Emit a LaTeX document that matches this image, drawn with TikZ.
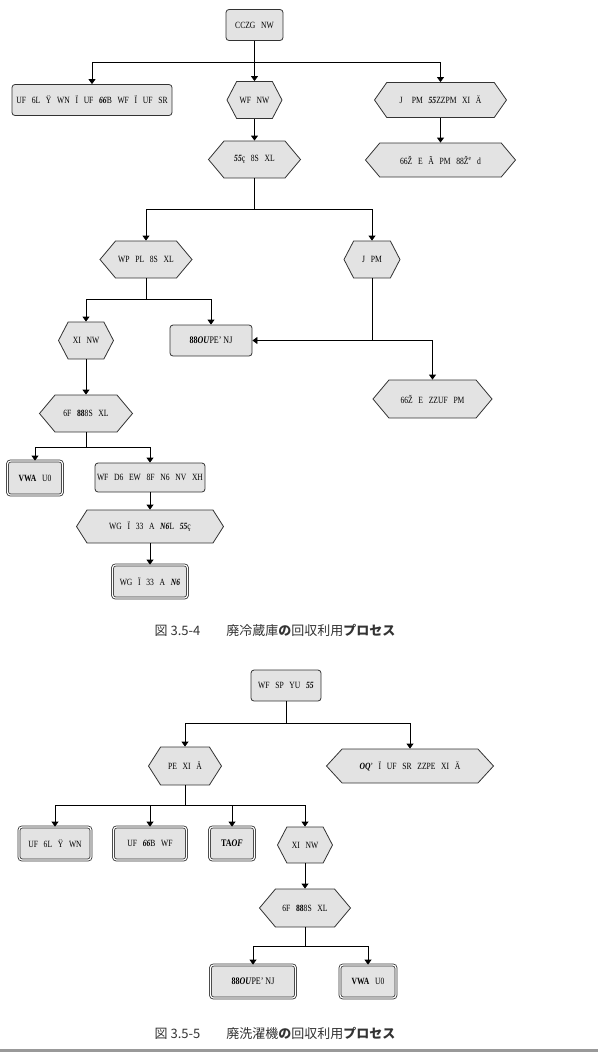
\documentclass[tikz,border=0pt]{standalone}
\usepackage{fontspec}
\setmainfont{Liberation Serif}[FakeStretch=0.8]
\newfontfamily\cjk{Noto Sans CJK JP}
\usetikzlibrary{arrows.meta,positioning,shapes.symbols}
\newcommand{\bi}[1]{\textbf{\textit{#1}}}
\newcommand{\nodefont}{\fontsize{9.5}{11}\selectfont\spaceskip=0.6em plus 0.1em\relax}

\begin{document}
\begin{tikzpicture}[
  x=1pt, y=-1pt,
  font=\nodefont,
  box/.style={draw=black!80, fill=black!11, rounded corners=3pt, align=center, inner sep=2pt, line width=0.8pt},
  dbox/.style={box, double=white, double distance=1.2pt},
  hexbox/.style={draw=black!80, fill=black!11, signal, signal to=east and west, signal pointer angle=110, inner sep=1pt, line width=0.8pt},
  arr/.style={-{Triangle[length=5pt,width=7pt]}, line width=0.8pt},
  figcap/.style={font=\cjk\fontsize{13}{15}\selectfont, text=black!80}
]
  \useasboundingbox (0,0) rectangle (598,1053);

  % --- first process
  \node[box, minimum width=57pt, minimum height=31pt] (fr) at (254.5,25) {CCZG NW};

  \node[box, minimum width=160pt, minimum height=31pt] (frA) at (92,100) {UF 6L Ÿ WN Ï UF \bi{66}B WF Ï UF SR};
  \node[hexbox, minimum width=55pt, minimum height=37pt, signal pointer angle=125] (frB) at (254.5,100) {WF NW};
  \node[hexbox, minimum width=132pt, minimum height=35pt] (frC) at (440.5,100) {J\quad PM \bi{55}ZZPM XI Ä};

  \node[hexbox, minimum width=92pt, minimum height=37pt, signal pointer angle=100] (frD) at (254.5,159.5) {\bi{55}ç 8S XL};
  \node[hexbox, minimum width=150pt, minimum height=34pt, signal pointer angle=100] (frE) at (440.5,160) {66Ž E Ã PM 88Ž\textsuperscript{e} d};

  \node[hexbox, minimum width=92pt, minimum height=37pt, signal pointer angle=100] (frF) at (146,259.5) {WP PL 8S XL};
  \node[hexbox, minimum width=56pt, minimum height=37pt, signal pointer angle=125] (frG) at (372,259.5) {J PM};

  \node[hexbox, minimum width=55pt, minimum height=37pt, signal pointer angle=125] (frH) at (86,340.5) {XI NW};
  \node[box, minimum width=82pt, minimum height=31pt, font=\fontsize{10}{11}\selectfont] (frI) at (211,340.5) {\textbf{88}\bi{OU}PE' NJ};
  \node[hexbox, minimum width=119pt, minimum height=38pt, signal pointer angle=100] (frJ) at (432.5,399) {66Ž E ZZUF PM};

  \node[hexbox, minimum width=93pt, minimum height=37pt, signal pointer angle=100] (frK) at (86,413.5) {6F \textbf{88}8S XL};

  \node[dbox, minimum width=55pt, minimum height=34pt] (frL) at (35,478) {\textbf{VWA} U0};
  \node[box, minimum width=107pt, minimum height=29pt] (frM) at (150,477.5) {WF D6 EW 8F N6 NV XH};
  \node[hexbox, minimum width=147pt, minimum height=33pt, signal pointer angle=115] (frN) at (150,526.5) {WG Ï 33 A \bi{N6}L \bi{55}ç};
  \node[dbox, minimum width=75pt, minimum height=33pt] (frO) at (150,581.5) {WG Ï 33 A \bi{N6}};

  \node[figcap] (capA) at (275,630) {図 3.5-4\hspace{2em}廃冷蔵庫\textbf{の}回収利用\textbf{プロセス}};

  \coordinate (barA) at (0,62);
  \coordinate (barB) at (0,209);
  \coordinate (barC) at (0,299);
  \coordinate (barD) at (0,447);

  \draw[arr] (fr.south) -- (fr.south |- barA) -| (frA.north);
  \draw[arr] (fr.south) -- (frB.north);
  \draw[arr] (fr.south |- barA) -| (frC.north);
  \draw[arr] (frB.south) -- (frD.north);
  \draw[arr] (frC.south) -- (frE.north);
  \draw[arr] (frD.south) -- (frD.south |- barB) -| (frF.north);
  \draw[arr] (frD.south |- barB) -| (frG.north);
  \draw[arr] (frF.south) -- (frF.south |- barC) -| (frH.north);
  \draw[arr] (frF.south |- barC) -| (frI.north);
  \draw[arr] (frG.south) |- (frI.east);
  \draw[arr] (frG.south |- frI.east) -| (frJ.north);
  \draw[arr] (frH.south) -- (frK.north);
  \draw[arr] (frK.south) -- (frK.south |- barD) -| (frL.north);
  \draw[arr] (frK.south |- barD) -| (frM.north);
  \draw[arr] (frM.south) -- (frN.north);
  \draw[arr] (frN.south) -- (frO.north);

  % --- second process
  \node[box, minimum width=70pt, minimum height=31pt] (wm) at (286,685.5) {WF SP YU \bi{55}};

  \node[hexbox, minimum width=73pt, minimum height=38pt, signal pointer angle=115] (wmA) at (185,766) {PE XI Ä};
  \node[hexbox, minimum width=167pt, minimum height=34pt, signal pointer angle=95] (wmB) at (410,766) {\bi{OQ}' Ï UF SR ZZPE XI Ä};

  \node[dbox, minimum width=72pt, minimum height=33pt] (wmC) at (55,843.5) {UF 6L Ÿ WN};
  \node[dbox, minimum width=73pt, minimum height=33pt] (wmD) at (150,843.5) {UF \bi{66}B WF};
  \node[dbox, minimum width=45pt, minimum height=33pt, font=\fontsize{10}{11}\selectfont] (wmE) at (232,843.5) {\textbf{TA}\bi{OF}};
  \node[hexbox, minimum width=55pt, minimum height=36pt, signal pointer angle=125] (wmF) at (305,845) {XI NW};

  \node[hexbox, minimum width=91pt, minimum height=38pt, signal pointer angle=100] (wmG) at (305,908) {6F \textbf{88}8S XL};

  \node[dbox, minimum width=85pt, minimum height=33pt, font=\fontsize{10}{11}\selectfont] (wmH) at (253,981.5) {\textbf{88}\bi{OU}PE' NJ};
  \node[dbox, minimum width=56pt, minimum height=33pt] (wmI) at (368,981.5) {\textbf{VWA} U0};

  \node[figcap] (capB) at (275,1033) {図 3.5-5\hspace{2em}廃洗濯機\textbf{の}回収利用\textbf{プロセス}};

  \coordinate (barE) at (0,723);
  \coordinate (barF) at (0,805);
  \coordinate (barG) at (0,946);

  \draw[arr] (wm.south) -- (wm.south |- barE) -| (wmA.north);
  \draw[arr] (wm.south |- barE) -| (wmB.north);
  \draw[arr] (wmA.south) -- (wmA.south |- barF) -| (wmC.north);
  \draw[arr] (wmA.south |- barF) -| (wmD.north);
  \draw[arr] (wmA.south |- barF) -| (wmE.north);
  \draw[arr] (wmA.south |- barF) -| (wmF.north);
  \draw[arr] (wmF.south) -- (wmG.north);
  \draw[arr] (wmG.south) -- (wmG.south |- barG) -| (wmH.north);
  \draw[arr] (wmG.south |- barG) -| (wmI.north);

  \draw[black!40, line width=3pt] (0,1050) -- (598,1050);
\end{tikzpicture}
\end{document}
